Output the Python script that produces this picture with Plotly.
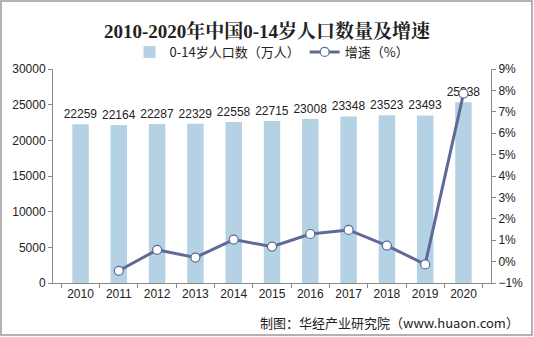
import plotly.graph_objects as go

years = ["2010", "2011", "2012", "2013", "2014", "2015", "2016", "2017", "2018", "2019", "2020"]
population = [22259, 22164, 22287, 22329, 22558, 22715, 23008, 23348, 23523, 23493, 25338]
growth = [None, -0.43, 0.55, 0.19, 1.03, 0.70, 1.29, 1.48, 0.75, -0.13, 7.85]

W, H = 534, 337
ml, mr, mt, mb = 53, 43, 69, 54

fig = go.Figure()
fig.add_trace(go.Bar(
    x=years, y=population, name="0-14岁人口数（万人）",
    marker=dict(color="#B5D1E4", line=dict(width=0)),
    width=0.43,
    text=[str(v) for v in population], textposition="outside",
    constraintext="none",
    textfont=dict(size=12, color="#222", family="Liberation Sans, Arial"),
    cliponaxis=False,
))
fig.add_trace(go.Scatter(
    x=years, y=growth, name="增速（%）", yaxis="y2", mode="lines+markers",
    line=dict(color="#5F6A98", width=3),
    marker=dict(size=9, color="white", line=dict(color="#5F6A98", width=1.2)),
    connectgaps=False,
))

fig.update_layout(
    width=W, height=H,
    margin=dict(l=ml, r=mr, t=mt, b=mb),
    paper_bgcolor="white", plot_bgcolor="white",
    font=dict(family="Liberation Sans, Noto Sans CJK SC", size=12, color="#222"),
    title=dict(text="<b>2010-2020年中国0-14岁人口数量及增速</b>",
               x=0.5, xanchor="center", y=1 - 31 / H, yanchor="middle",
               font=dict(size=19, family="Liberation Serif, Noto Serif CJK SC, Noto Sans CJK SC", color="#222")),
    legend=dict(orientation="h", x=0.5, xanchor="center", y=1 + (mt - 52) / (H - mt - mb), yanchor="middle",
                font=dict(size=13, family="Noto Sans CJK SC"), itemwidth=30, bgcolor="rgba(0,0,0,0)"),
    bargap=0.57,
    xaxis=dict(type="category", showline=True, linecolor="#888", linewidth=1,
               ticks="outside", tickson="boundaries", ticklen=4, tickcolor="#888",
               tickfont=dict(size=12), showgrid=False),
    yaxis=dict(range=[0, 30000], dtick=5000, tickformat="d", showgrid=False, showline=True, linecolor="#888",
               ticks="outside", ticklen=4, tickcolor="#888", tickfont=dict(size=12), zeroline=False),
    yaxis2=dict(range=[-1, 9], dtick=1, overlaying="y", side="right", showgrid=False,
                showline=True, linecolor="#888", ticks="outside", ticklen=4, tickcolor="#888",
                ticksuffix="%", tickfont=dict(size=12), zeroline=False),
    showlegend=True,
)

pw, ph = W - ml - mr, H - mt - mb
fig.add_shape(type="rect", xref="paper", yref="paper",
              x0=(-ml + 1) / pw, x1=(W - ml - 2) / pw,
              y0=(-mb + 2) / ph, y1=(H - mb - 1) / ph,
              line=dict(color="#999", width=1.5), fillcolor="rgba(0,0,0,0)", layer="below")

fig.add_annotation(xref="paper", yref="paper", x=(521 - ml) / pw, y=-(322 - (H - mb)) / ph,
                   xanchor="right", yanchor="middle", showarrow=False,
                   text="制图：华经产业研究院（www.huaon.com）",
                   font=dict(size=13, family="Noto Sans CJK SC", color="#222"))

fig.write_html("out.html")
